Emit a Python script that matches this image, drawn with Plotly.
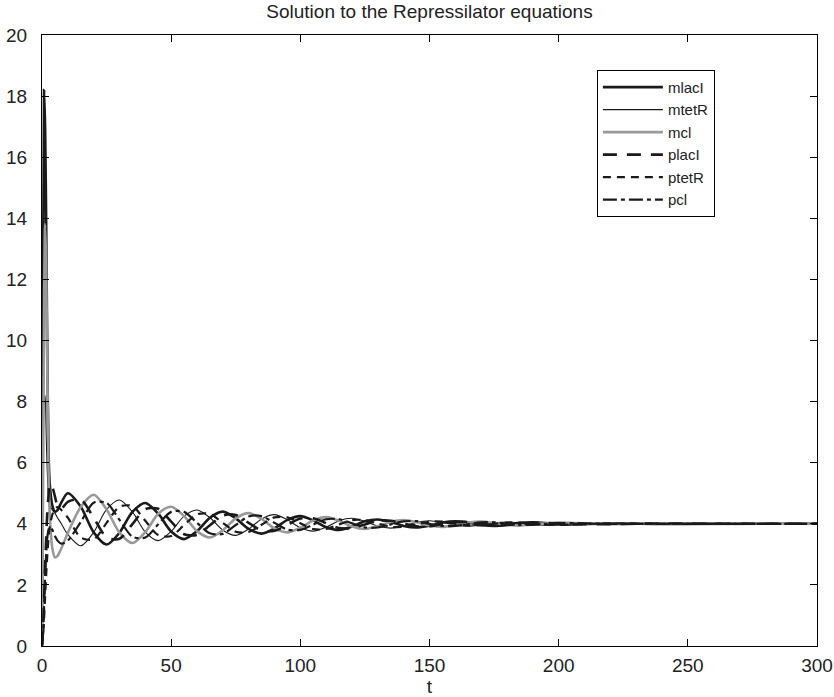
import plotly.graph_objects as go

# time samples
t = [0, 0.4, 0.8, 1.2, 1.6, 2, 2.5, 3, 4, 5, 6, 7.5,
     10, 15, 20, 25, 30, 35, 40, 45, 50, 55, 60, 65, 70, 75, 80, 85, 90, 95,
     100, 105, 110, 115, 120, 125, 130, 135, 140, 145, 150, 155, 160, 165,
     170, 175, 180, 185, 190, 195, 200, 220, 240, 260, 280, 300]

mlacI = [0.3, 10, 18.2, 17, 14, 10, 6.5, 5.3, 4.6, 4.4, 4.45, 4.7,
         5.0, 4.56, 3.72, 3.32, 3.71, 4.39, 4.68, 4.33, 3.75, 3.5, 3.76, 4.2,
         4.40, 4.18, 3.83, 3.68, 3.85, 4.13,
         4.25, 4.11, 3.89, 3.80, 3.91, 4.08, 4.14, 4.06, 3.93, 3.88, 3.94, 4.04,
         4.08, 4.04, 3.96, 3.93, 3.965, 4.03, 4.05, 4.025, 3.975,
         4.01, 3.995, 4.0, 4.0, 4.0]

mtetR = [0.2, 5, 8, 8.2, 7, 5.8, 4.9, 4.6, 4.45, 4.35, 4.2, 4.0,
         3.65, 3.28, 3.72, 4.47, 4.78, 4.39, 3.73, 3.45, 3.75, 4.25, 4.45, 4.2,
         3.79, 3.62, 3.83, 4.16, 4.30, 4.13,
         3.87, 3.76, 3.89, 4.10, 4.18, 4.08, 3.925, 3.86, 3.935, 4.05, 4.10, 4.045,
         3.96, 3.92, 3.965, 4.03, 4.06, 4.025, 3.975, 3.95, 3.98,
         4.01, 3.99, 4.005, 4.0, 4.0]

mcl = [0.3, 5, 11, 13.8, 12.5, 9.5, 6, 4.3, 3.2, 2.9, 2.95, 3.2,
       3.7, 4.55, 4.95, 4.47, 3.71, 3.37, 3.73, 4.33, 4.56, 4.25, 3.76, 3.55,
       3.79, 4.18, 4.35, 4.16, 3.85, 3.72,
       3.87, 4.11, 4.22, 4.10, 3.91, 3.83, 3.92, 4.06, 4.12, 4.055, 3.945, 3.90,
       3.955, 4.04, 4.07, 4.03, 3.97, 3.94, 3.975, 4.02, 4.04,
       3.99, 4.01, 3.995, 4.0, 4.0]

placI = [0, 0.5, 1.5, 2.6, 3.5, 4.3, 4.9, 5.3, 5.2, 4.9, 4.6, 4.5,
         4.72, 4.79, 4.2, 3.56, 3.51, 3.99, 4.48, 4.49, 4.07, 3.66, 3.64, 3.95,
         4.27, 4.29, 4.03, 3.78, 3.77, 3.97,
         4.17, 4.18, 4.02, 3.86, 3.86, 3.98, 4.10, 4.10, 4.005, 3.92, 3.91, 3.99,
         4.05, 4.06, 4.01, 3.96, 3.96, 4.0, 4.03, 4.03, 4.0,
         3.99, 4.01, 4.0, 4.0, 4.0]

ptetR = [0, 0.3, 0.9, 1.6, 2.3, 2.9, 3.5, 3.9, 4.3, 4.5, 4.55, 4.45,
         4.2, 3.55, 3.49, 4.03, 4.56, 4.58, 4.10, 3.63, 3.60, 3.96, 4.31, 4.32,
         4.03, 3.74, 3.73, 3.97, 4.21, 4.21,
         4.02, 3.83, 3.83, 3.98, 4.12, 4.12, 4.01, 3.90, 3.90, 3.985, 4.07, 4.07,
         4.0, 3.95, 3.95, 3.995, 4.04, 4.04, 4.0, 3.97, 3.97,
         4.01, 3.995, 4.0, 4.0, 4.0]

pcl = [0, 0.4, 1.3, 2.3, 3.0, 3.5, 3.8, 3.9, 3.8, 3.6, 3.45, 3.35,
       3.45, 4.06, 4.69, 4.68, 4.13, 3.58, 3.55, 3.985, 4.39, 4.39, 4.03, 3.69,
       3.67, 3.96, 4.24, 4.25, 4.03, 3.81,
       3.80, 3.975, 4.15, 4.15, 4.015, 3.88, 3.88, 3.98, 4.08, 4.085, 4.0, 3.93,
       3.93, 3.99, 4.05, 4.05, 4.0, 3.965, 3.965, 4.0, 4.025,
       4.0, 4.0, 4.0, 4.0, 4.0]

series = [
    ("mlacI", mlacI, dict(color="#1a1a1a", width=2.6, dash="solid")),
    ("mtetR", mtetR, dict(color="#1a1a1a", width=1.1, dash="solid")),
    ("mcl", mcl, dict(color="#999999", width=2.6, dash="solid")),
    ("placI", placI, dict(color="#1a1a1a", width=2.6, dash="14px,10px")),
    ("ptetR", ptetR, dict(color="#1a1a1a", width=2.2, dash="8px,6px")),
    ("pcl", pcl, dict(color="#1a1a1a", width=2.2, dash="14px,4px,4px,4px")),
]

fig = go.Figure()
for name, ys, ln in series:
    fig.add_trace(go.Scatter(x=t, y=ys, mode="lines", name=name,
                             line=dict(shape="spline", smoothing=0.8, **ln)))

axis_common = dict(showline=True, linecolor="black", linewidth=1, mirror="ticks",
                   ticks="inside", ticklen=7, tickcolor="black", showgrid=False,
                   zeroline=False, automargin=False,
                   tickfont=dict(size=19, color="#222"))

fig.update_layout(
    width=834, height=697,
    margin=dict(l=42, r=17, t=35, b=51),
    paper_bgcolor="white", plot_bgcolor="white",
    font=dict(family="Liberation Sans, Arial, sans-serif", color="#222"),
    title=dict(text="Solution to the Repressilator equations", x=0.515, xanchor="center",
               y=0.983, yanchor="middle", font=dict(size=19)),
    xaxis=dict(range=[0, 300], tickvals=[0, 50, 100, 150, 200, 250, 300],
               ticklabelstandoff=2,
               title=dict(text="t", font=dict(size=19), standoff=0), **axis_common),
    yaxis=dict(range=[0, 20], tickvals=list(range(0, 21, 2)),
               ticklabelstandoff=10, **axis_common),
    legend=dict(x=0.716, y=0.943, xanchor="left", yanchor="top",
                bgcolor="white", bordercolor="black", borderwidth=1,
                font=dict(size=15), itemwidth=60, tracegroupgap=0),
    showlegend=True,
)

fig.write_html("out.html", config={"displayModeBar": False},
               post_script="document.body.style.margin='0';")
